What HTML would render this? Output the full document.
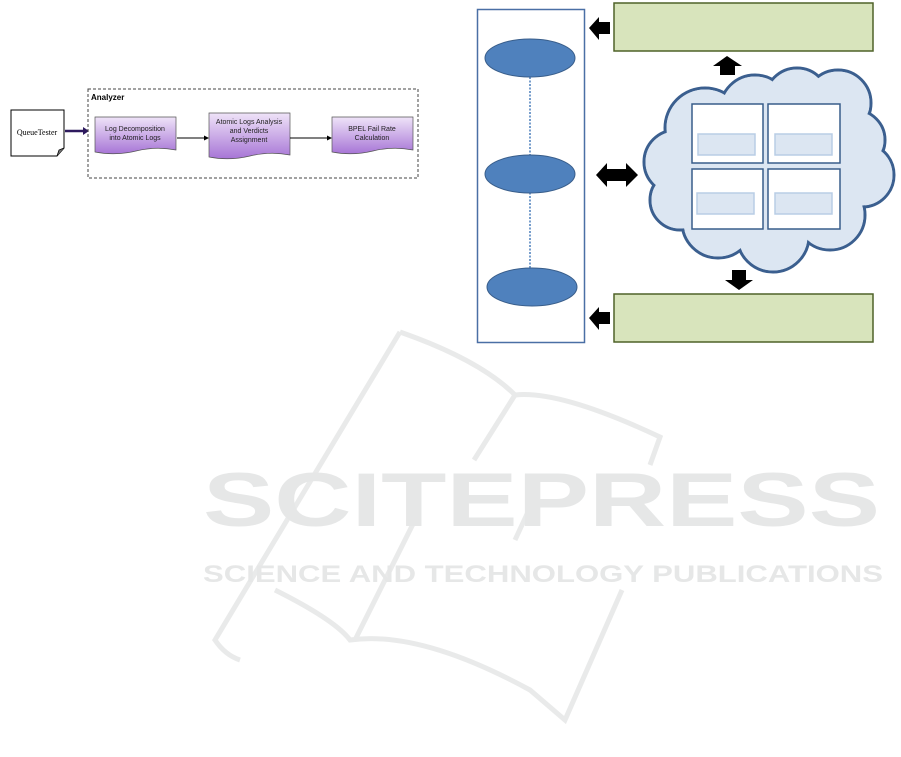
<!DOCTYPE html>
<html><head><style>
body{margin:0;background:#fff;width:901px;height:757px;overflow:hidden}
svg{display:block}
</style></head><body>
<svg width="901" height="757" viewBox="0 0 901 757" xmlns="http://www.w3.org/2000/svg">
<defs>
<linearGradient id="pg" x1="0" y1="0" x2="0" y2="1">
<stop offset="0" stop-color="#efe3f8"/><stop offset="1" stop-color="#a775d6"/>
</linearGradient>
</defs>
<!-- watermark -->
<g fill="none" stroke="#e9eaea" stroke-width="5">
<path d="M400 332 L215 640 Q225 655 240 660"/>
<path d="M400 332 Q480 360 515 395 Q560 390 660 437 L650 465"/>
<path d="M515 395 L474 460"/>
<path d="M275 590 Q335 620 350 640 Q420 630 530 690 L565 720 L622 590"/>
<path d="M355 640 L415 520"/>
<path d="M515 540 L528 512"/>
</g>
<text x="203" y="526" font-family="Liberation Sans, sans-serif" font-weight="bold" font-size="76" fill="#e6e7e7" textLength="677" lengthAdjust="spacingAndGlyphs">SCITEPRESS</text>
<text x="203" y="582" font-family="Liberation Sans, sans-serif" font-weight="bold" font-size="24" fill="#e6e7e7" textLength="680" lengthAdjust="spacingAndGlyphs">SCIENCE AND TECHNOLOGY PUBLICATIONS</text>

<!-- left diagram -->
<path d="M11 110 H64 V148 L57 156 H11 Z" fill="#fff" stroke="#000" stroke-width="1"/>
<path d="M57 156 L59 150 L64 148" fill="#777" stroke="#000" stroke-width="0.8"/>
<text x="37" y="135" font-family="Liberation Serif, serif" font-size="8" text-anchor="middle">QueueTester</text>
<line x1="65" y1="131" x2="84" y2="131" stroke="#2e1a5e" stroke-width="2.5"/>
<path d="M83 127 L89 131 L83 135 Z" fill="#2e1a5e"/>
<rect x="88" y="89" width="330" height="89" fill="none" stroke="#444" stroke-dasharray="3,2" stroke-width="1"/>
<text x="91" y="100" font-family="Liberation Sans, sans-serif" font-weight="bold" font-size="8">Analyzer</text>
<g font-family="Liberation Sans, sans-serif" font-size="7" text-anchor="middle" fill="#222">
<path d="M95 117 H176 V150 Q156 146 136 151 Q115 156 95 152 Z" fill="url(#pg)" stroke="#555" stroke-width="0.7"/>
<text x="135" y="131">Log Decomposition</text><text x="135" y="140">into Atomic Logs</text>
<path d="M209 113 H290 V155 Q270 151 250 156 Q229 161 209 157 Z" fill="url(#pg)" stroke="#555" stroke-width="0.7"/>
<text x="249" y="124">Atomic Logs Analysis</text><text x="249" y="133">and Verdicts</text><text x="249" y="142">Assignment</text>
<path d="M332 117 H413 V150 Q393 146 373 151 Q352 156 332 152 Z" fill="url(#pg)" stroke="#555" stroke-width="0.7"/>
<text x="372" y="131">BPEL Fail Rate</text><text x="372" y="140">Calculation</text>
</g>
<line x1="177" y1="138" x2="205" y2="138" stroke="#000" stroke-width="1"/><path d="M204 135.5 L209 138 L204 140.5Z"/>
<line x1="290" y1="138" x2="328" y2="138" stroke="#000" stroke-width="1"/><path d="M327 135.5 L332 138 L327 140.5Z"/>

<!-- right diagram -->
<rect x="477.5" y="9.5" width="107" height="333" fill="#fff" stroke="#4a6fa5" stroke-width="1.5"/>
<line x1="530" y1="77" x2="530" y2="270" stroke="#4a7ebb" stroke-width="1.5" stroke-dasharray="2,1.5"/>
<g fill="#4f81bd" stroke="#385d8a" stroke-width="1">
<ellipse cx="530" cy="58" rx="45" ry="19"/>
<ellipse cx="530" cy="174" rx="45" ry="19"/>
<ellipse cx="532" cy="287" rx="45" ry="19"/>
</g>
<rect x="614" y="3" width="259" height="48" fill="#d8e4bc" stroke="#4f6228" stroke-width="1.5"/>
<rect x="614" y="294" width="259" height="48" fill="#d8e4bc" stroke="#4f6228" stroke-width="1.5"/>
<path d="M589 28 L599 17 V22 H610 V34 H599 V40 Z"/>
<path d="M589 318 L599 307 V312 H610 V324 H599 V330 Z"/>
<path d="M596 175 L607 163 V169 H626 V163 L638 175 L626 187 V181 H607 V187 Z"/>
<path d="M727 56 L742 66 H735 V75 H720 V66 H713 Z"/>
<path d="M739 290 L753 280 H746 V270 H732 V280 H725 Z"/>
<!-- cloud -->
<g fill="#dce6f2" stroke="#3b5f8f" stroke-width="3">
<circle cx="705" cy="128" r="40"/><circle cx="755" cy="110" r="35"/><circle cx="797" cy="100" r="32"/><circle cx="838" cy="103" r="33"/>
<circle cx="855" cy="140" r="30"/><circle cx="862" cy="175" r="32"/><circle cx="830" cy="215" r="35"/>
<circle cx="773" cy="236" r="36"/><circle cx="718" cy="222" r="36"/><circle cx="680" cy="200" r="30"/><circle cx="676" cy="162" r="32"/>
</g>
<g fill="#dce6f2">
<circle cx="705" cy="128" r="38.5"/><circle cx="755" cy="110" r="33.5"/><circle cx="797" cy="100" r="30.5"/><circle cx="838" cy="103" r="31.5"/>
<circle cx="855" cy="140" r="28.5"/><circle cx="862" cy="175" r="30.5"/><circle cx="830" cy="215" r="33.5"/>
<circle cx="773" cy="236" r="34.5"/><circle cx="718" cy="222" r="34.5"/><circle cx="680" cy="200" r="28.5"/><circle cx="676" cy="162" r="30.5"/>
<rect x="690" y="110" width="160" height="120"/>
</g>
<g fill="#fff" stroke="#385d8a" stroke-width="1.5">
<rect x="692" y="104" width="71" height="59"/><rect x="768" y="104" width="72" height="59"/>
<rect x="692" y="169" width="71" height="60"/><rect x="768" y="169" width="72" height="60"/>
</g>
<g fill="#dce6f2" stroke="#b9cde5" stroke-width="1.5">
<rect x="698" y="134" width="57" height="21"/><rect x="775" y="134" width="57" height="21"/>
<rect x="697" y="193" width="57" height="21"/><rect x="775" y="193" width="57" height="21"/>
</g>
</svg>
</body></html>
